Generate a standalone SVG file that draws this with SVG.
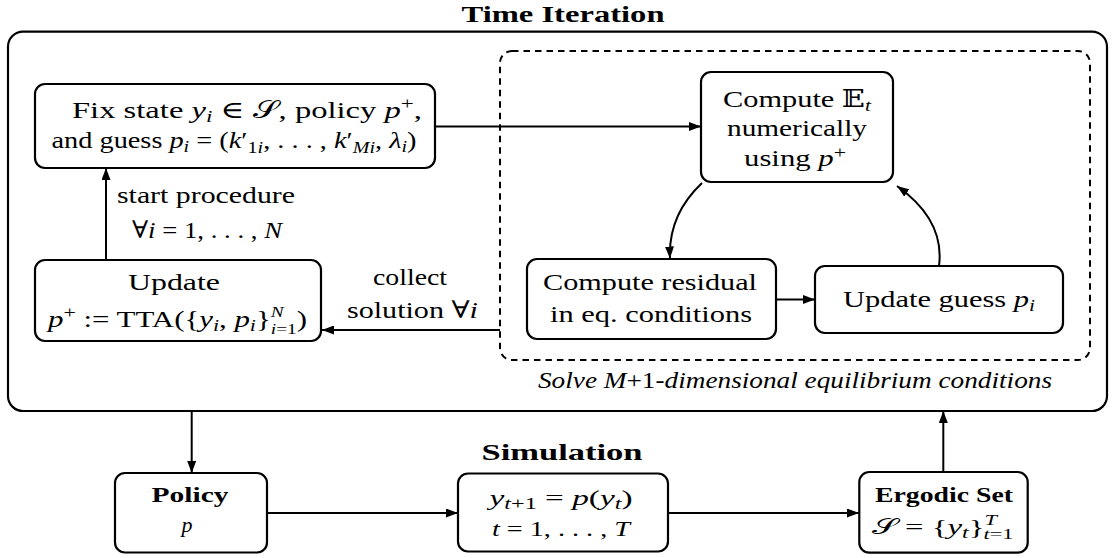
<svg xmlns="http://www.w3.org/2000/svg" width="1115" height="558" viewBox="0 0 1115 558">
<style>
.t{font-family:"Liberation Serif","DejaVu Serif",serif;font-size:24px;fill:#000}
.s{font-size:22px}
.i{font-style:italic}
.b{font-weight:bold}
.node{fill:#fff;stroke:#000;stroke-width:2.2}
.frame{fill:none;stroke:#000;stroke-width:2.2}
.dash{fill:none;stroke:#000;stroke-width:2;stroke-dasharray:6.5 5}
.edge{fill:none;stroke:#000;stroke-width:2;marker-end:url(#ah)}
</style>
<defs>
<marker id="ah" markerUnits="userSpaceOnUse" markerWidth="12" markerHeight="9" refX="12" refY="4.5" orient="auto">
<path d="M0,0 L12,4.5 L0,9 z" fill="#000"/>
</marker>
</defs>

<g id="time-iteration">
<rect class="frame" x="8" y="31.7" width="1099" height="379.3" rx="15"/>
<text class="t b" x="563" y="22" text-anchor="middle" font-size="27" textLength="203" lengthAdjust="spacingAndGlyphs">Time Iteration</text>
</g>

<g id="solver">
<rect class="dash" x="500" y="51" width="590" height="309" rx="12"/>
<text class="t i" x="795" y="388" text-anchor="middle" font-size="23" textLength="514" lengthAdjust="spacingAndGlyphs">Solve M<tspan font-style="normal">+1</tspan>-dimensional equilibrium conditions</text>
</g>

<g id="fix-state">
<rect class="node" x="35" y="84" width="400" height="84" rx="10"/>
<text class="t" x="247" y="118" text-anchor="middle" textLength="350" lengthAdjust="spacingAndGlyphs">Fix state <tspan class="i">y</tspan><tspan class="i" font-size="17" dy="4">i</tspan><tspan dy="-4"> ∈ 𝒮, policy </tspan><tspan class="i">p</tspan><tspan font-size="17" dy="-9">+</tspan><tspan dy="9">,</tspan></text>
<text class="t" x="234" y="148" text-anchor="middle" textLength="365" lengthAdjust="spacingAndGlyphs">and guess <tspan class="i">p</tspan><tspan class="i" font-size="17" dy="4">i</tspan><tspan dy="-4"> = (</tspan><tspan class="i">k</tspan>′<tspan font-size="17" dy="5">1<tspan class="i">i</tspan></tspan><tspan dy="-5">, . . . , </tspan><tspan class="i">k</tspan>′<tspan class="i" font-size="17" dy="5">Mi</tspan><tspan dy="-5">, </tspan><tspan class="i">λ</tspan><tspan class="i" font-size="17" dy="4">i</tspan><tspan dy="-4">)</tspan></text>
</g>

<g id="update-policy">
<rect class="node" x="35" y="260" width="286" height="81" rx="10"/>
<text class="t" x="174" y="290" text-anchor="middle" textLength="92" lengthAdjust="spacingAndGlyphs">Update</text>
<text class="t" x="177.5" y="327" text-anchor="middle" textLength="259" lengthAdjust="spacingAndGlyphs"><tspan class="i">p</tspan><tspan font-size="17" dy="-9">+</tspan><tspan dy="9"> := TTA({</tspan><tspan class="i">y</tspan><tspan class="i" font-size="17" dy="4">i</tspan><tspan dy="-4">, </tspan><tspan class="i">p</tspan><tspan class="i" font-size="17" dy="4">i</tspan><tspan dy="-4">}</tspan><tspan class="i" font-size="15" dy="-10">N</tspan><tspan font-size="15" dx="-10" dy="17"><tspan class="i">i</tspan>=1</tspan><tspan dy="-7">)</tspan></text>
</g>

<g id="compute-expectation">
<rect class="node" x="701" y="72" width="192" height="110" rx="10"/>
<text class="t" x="797" y="107" text-anchor="middle" textLength="148" lengthAdjust="spacingAndGlyphs">Compute 𝔼<tspan class="i" font-size="17" dy="4">t</tspan></text>
<text class="t" x="797" y="136" text-anchor="middle" textLength="140" lengthAdjust="spacingAndGlyphs">numerically</text>
<text class="t" x="795" y="166" text-anchor="middle" textLength="102" lengthAdjust="spacingAndGlyphs">using <tspan class="i">p</tspan><tspan font-size="17" dy="-8">+</tspan></text>
</g>

<g id="compute-residual">
<rect class="node" x="527" y="259" width="249" height="80" rx="10"/>
<text class="t" x="650" y="290" text-anchor="middle" textLength="214" lengthAdjust="spacingAndGlyphs">Compute residual</text>
<text class="t" x="651" y="321.7" text-anchor="middle" textLength="202" lengthAdjust="spacingAndGlyphs">in eq.  conditions</text>
</g>

<g id="update-guess">
<rect class="node" x="815" y="266" width="248" height="67" rx="10"/>
<text class="t" x="939" y="307" text-anchor="middle" textLength="192" lengthAdjust="spacingAndGlyphs">Update guess <tspan class="i">p</tspan><tspan class="i" font-size="17" dy="4">i</tspan></text>
</g>

<g id="simulation-title">
<text class="t b" x="562" y="460" text-anchor="middle" font-size="27" textLength="161" lengthAdjust="spacingAndGlyphs">Simulation</text>
</g>

<g id="policy">
<rect class="node" x="115" y="473" width="152" height="79.5" rx="10"/>
<text class="t s b" x="190" y="502" text-anchor="middle" textLength="77" lengthAdjust="spacingAndGlyphs">Policy</text>
<text class="t s i" x="187" y="532" text-anchor="middle">p</text>
</g>

<g id="simulate">
<rect class="node" x="458" y="473.5" width="210" height="78" rx="10"/>
<text class="t s" x="561" y="505" text-anchor="middle" textLength="143" lengthAdjust="spacingAndGlyphs"><tspan class="i">y</tspan><tspan class="i" font-size="16" dy="4">t</tspan><tspan font-size="16">+1</tspan><tspan dy="-4"> = </tspan><tspan class="i">p</tspan>(<tspan class="i">y</tspan><tspan class="i" font-size="16" dy="4">t</tspan><tspan dy="-4">)</tspan></text>
<text class="t s" x="561" y="536" text-anchor="middle" textLength="138" lengthAdjust="spacingAndGlyphs"><tspan class="i">t</tspan>  =  1, . . . , <tspan class="i">T</tspan></text>
</g>

<g id="ergodic-set">
<rect class="node" x="859.3" y="472" width="168.4" height="80.7" rx="10"/>
<text class="t s b" x="944" y="502" text-anchor="middle" textLength="138" lengthAdjust="spacingAndGlyphs">Ergodic Set</text>
<text class="t s" x="942.5" y="534" text-anchor="middle" textLength="142" lengthAdjust="spacingAndGlyphs">𝒮 = {<tspan class="i">y</tspan><tspan class="i" font-size="16" dy="4">t</tspan><tspan dy="-4">}</tspan><tspan class="i" font-size="15" dy="-9">T</tspan><tspan font-size="15" dx="-9" dy="14"><tspan class="i">t</tspan>=1</tspan></text>
</g>

<g id="labels">
<text class="t" x="206" y="203" text-anchor="middle" textLength="178" lengthAdjust="spacingAndGlyphs">start procedure</text>
<text class="t" x="207" y="238" text-anchor="middle" textLength="150" lengthAdjust="spacingAndGlyphs">∀<tspan class="i">i</tspan> = 1, . . . , <tspan class="i">N</tspan></text>
<text class="t" x="410" y="285" text-anchor="middle" textLength="74" lengthAdjust="spacingAndGlyphs">collect</text>
<text class="t" x="412.5" y="318" text-anchor="middle" textLength="131" lengthAdjust="spacingAndGlyphs">solution ∀<tspan class="i">i</tspan></text>
</g>

<g id="connectors">
<line class="edge" x1="435" y1="126.5" x2="701" y2="126.5"/>
<line class="edge" x1="106" y1="260" x2="106" y2="168"/>
<line class="edge" x1="500" y1="330" x2="322" y2="330"/>
<path class="edge" d="M702,183 Q668,215 670,258.5"/>
<line class="edge" x1="776" y1="299.5" x2="815" y2="299.5"/>
<path class="edge" d="M939,266 Q945,220 897,186"/>
<line class="edge" x1="191.7" y1="411" x2="191.7" y2="473"/>
<line class="edge" x1="267" y1="513" x2="458" y2="513"/>
<line class="edge" x1="668" y1="513" x2="859" y2="513"/>
<line class="edge" x1="943.3" y1="472" x2="943.3" y2="411"/>
</g>
</svg>
